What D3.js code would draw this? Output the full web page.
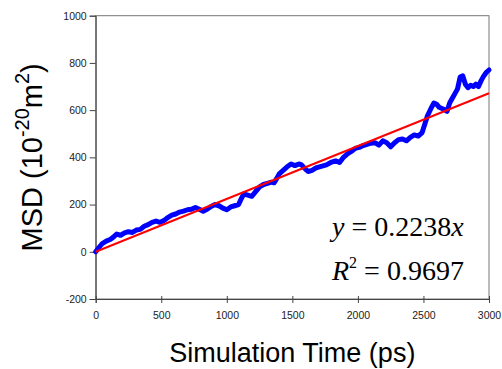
<!DOCTYPE html>
<html>
<head>
<meta charset="utf-8">
<script src="https://cdn.jsdelivr.net/npm/d3@7"></script>
<style>
  html, body { margin: 0; padding: 0; background: #fff; }
  svg { display: block; }
</style>
</head>
<body>
<svg id="chart" width="502" height="369"></svg>
<script>
// Simulation time (ps) and mean squared displacement (1e-20 m^2)
const timePs = [0, 20, 50, 80, 110, 130, 160, 190, 220, 250, 280, 310, 340, 370, 400, 430, 460, 490, 520, 550,
  580, 610, 640, 670, 700, 730, 760, 790, 820, 850, 880, 910, 940, 970, 1000, 1030, 1060, 1090, 1110, 1130,
  1160, 1190, 1220, 1250, 1280, 1310, 1340, 1360, 1380, 1400, 1430, 1460, 1490, 1520, 1550, 1570, 1600, 1620,
  1650, 1680, 1720, 1760, 1800, 1830, 1860, 1890, 1920, 1950, 1980, 2010, 2040, 2070, 2100, 2130, 2160, 2190,
  2220, 2250, 2280, 2310, 2340, 2370, 2400, 2430, 2460, 2490, 2510, 2530, 2560, 2580, 2600, 2620, 2650, 2680,
  2700, 2720, 2740, 2760, 2780, 2800, 2820, 2840, 2860, 2880, 2900, 2920, 2940, 2960, 2980, 3000];
const msd = [0, 15, 35, 45, 52, 60, 75, 70, 80, 85, 82, 92, 95, 108, 115, 125, 130, 125, 132, 145,
  155, 160, 168, 172, 178, 180, 188, 180, 172, 180, 192, 200, 195, 185, 178, 190, 195, 200, 225, 245,
  240, 235, 255, 275, 285, 290, 295, 292, 310, 330, 345, 360, 372, 365, 372, 368, 350, 340,
  345, 355, 362, 368, 380, 385, 378, 400, 415, 425, 438, 442, 450, 455, 460, 462, 452, 470,
  462, 445, 462, 475, 478, 470, 485, 495, 490, 505, 540, 575, 610, 630, 625, 612, 605, 595,
  630, 650, 670, 690, 740, 745, 710, 695, 705, 700, 710, 700, 725, 745, 760, 770];

// Linear fit through the origin
const slope = 0.2238;
const rSquared = 0.9697;
const fitRange = [0, 3000];

const xTicks = [0, 500, 1000, 1500, 2000, 2500, 3000];
const yTicks = [-200, 0, 200, 400, 600, 800, 1000];

const svg = d3.select("#chart");
const plotL = 95.7, plotR = 489, plotT = 15.7, plotB = 299;

const x = d3.scaleLinear().domain([0, 3000]).range([plotL, plotR]);
const y = d3.scaleLinear().domain([-200, 1000]).range([plotB, plotT]);
const plainNum = d => String(d);

// Frame
svg.append("rect")
  .attr("x", plotL).attr("y", plotT)
  .attr("width", plotR - plotL).attr("height", plotB - plotT)
  .attr("fill", "none").attr("stroke", "#777").attr("stroke-width", 1);

// Y axis
const yAxis = svg.append("g")
  .attr("transform", `translate(${plotL},0)`)
  .call(d3.axisLeft(y).tickValues(yTicks).tickSize(6).tickPadding(3).tickFormat(plainNum));
yAxis.select(".domain").attr("stroke", "#444");
yAxis.selectAll(".tick line").attr("stroke", "#444");
yAxis.selectAll("text")
  .attr("font-family", "Liberation Sans, Arial, sans-serif")
  .attr("font-size", "10.5px").attr("fill", "#222");

// X axis
const xAxis = svg.append("g")
  .attr("transform", `translate(0,${plotB})`)
  .call(d3.axisBottom(x).tickValues(xTicks).tickSize(4).tickPadding(9).tickFormat(plainNum));
xAxis.select(".domain").attr("stroke", "#444");
xAxis.selectAll(".tick line").attr("stroke", "#444").attr("y1", -3);
xAxis.selectAll("text")
  .attr("font-family", "Liberation Sans, Arial, sans-serif")
  .attr("font-size", "10.5px").attr("fill", "#222");

// MSD trace
const pts = timePs.map((t, i) => [t, msd[i]]);
const line = d3.line().x(d => x(d[0])).y(d => y(d[1])).curve(d3.curveLinear);
svg.append("path")
  .datum(pts)
  .attr("d", line)
  .attr("fill", "none")
  .attr("stroke", "#0000ff")
  .attr("stroke-width", 5)
  .attr("stroke-linejoin", "round")
  .attr("stroke-linecap", "round");

// Fit line
svg.append("path")
  .datum(fitRange.map(t => [t, slope * t]))
  .attr("d", line)
  .attr("fill", "none")
  .attr("stroke", "#ff0000")
  .attr("stroke-width", 2);

// Axis titles
svg.append("text")
  .attr("x", (plotL + plotR) / 2).attr("y", 362)
  .attr("text-anchor", "middle")
  .attr("font-family", "Liberation Sans, Arial, sans-serif")
  .attr("font-size", "27px").attr("fill", "#000")
  .text("Simulation Time (ps)");

const yTitle = svg.append("text")
  .attr("transform", `translate(42,${(plotT + plotB) / 2}) rotate(-90)`)
  .attr("text-anchor", "middle")
  .attr("font-family", "Liberation Sans, Arial, sans-serif")
  .attr("font-size", "29px").attr("fill", "#000");
yTitle.append("tspan").text("MSD (10");
yTitle.append("tspan").attr("dy", -13).attr("font-size", "20px").text("-20");
yTitle.append("tspan").attr("dy", 13).text("m");
yTitle.append("tspan").attr("dy", -13).attr("font-size", "20px").text("2");
yTitle.append("tspan").attr("dy", 13).text(")");

// Fit equation
const serif = "Liberation Serif, Times New Roman, serif";
const eq1 = svg.append("text")
  .attr("x", 332).attr("y", 236)
  .attr("font-family", serif).attr("font-size", "28px").attr("fill", "#000");
eq1.append("tspan").attr("font-style", "italic").text("y");
eq1.append("tspan").text(" = " + slope.toFixed(4));
eq1.append("tspan").attr("font-style", "italic").text("x");

const eq2 = svg.append("text")
  .attr("x", 332).attr("y", 280)
  .attr("font-family", serif).attr("font-size", "28px").attr("fill", "#000");
eq2.append("tspan").attr("font-style", "italic").text("R");
eq2.append("tspan").attr("dy", -12).attr("font-size", "16px").text("2");
eq2.append("tspan").attr("dy", 12).text(" = " + rSquared.toFixed(4));
</script>
</body>
</html>
